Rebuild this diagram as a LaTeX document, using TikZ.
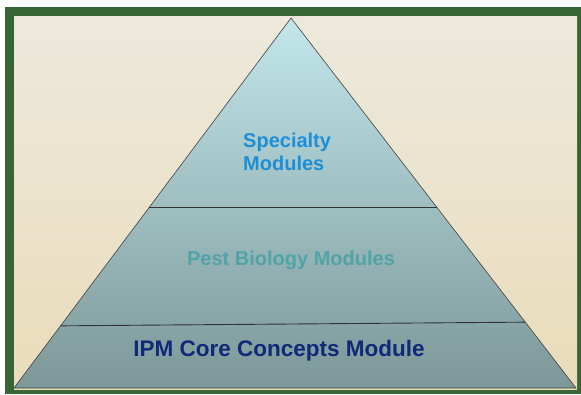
\documentclass[tikz,border=0pt]{standalone}
\usepackage{fontspec}
\setmainfont{Liberation Sans}
\usetikzlibrary{calc,positioning}
\definecolor{frameGreen}{RGB}{55,102,52}
\definecolor{paperTop}{RGB}{236,233,220}
\definecolor{paperMid}{RGB}{242,236,220}
\definecolor{paperBot}{RGB}{234,220,186}
\definecolor{pyrTop}{RGB}{194,230,234}
\definecolor{pyrBot}{RGB}{124,151,152}
\definecolor{specBlue}{RGB}{30,142,214}
\definecolor{pestTeal}{RGB}{80,163,168}
\definecolor{coreNavy}{RGB}{16,42,120}
\tikzset{
  tierlabel/.style={font=\bfseries\fontsize{20}{23}\selectfont,align=center,inner sep=0pt},
  tierline/.style={draw=black!80,line width=0.9pt}
}
\begin{document}
\begin{tikzpicture}[x=1pt,y=-1pt]
\useasboundingbox (0,0) rectangle (581,394);
% frame and paper
\fill[white] (0,0) rectangle (581,394);
\fill[frameGreen] (5,7) rectangle (581,394);
\shade[top color=paperTop,middle color=paperMid,bottom color=paperBot] (14,16) rectangle (577,389);
% pyramid corners
\coordinate (apex) at (291,18);
\coordinate (bl) at (14,388);
\coordinate (br) at (576,388);
\shade[top color=pyrTop,bottom color=pyrBot,draw=black!75,line width=0.6pt] (apex) -- (bl) -- (br) -- cycle;
% tier borders
\coordinate (t1l) at ($(apex)!0.511!(bl)$);
\coordinate (t1r) at ($(apex)!0.511!(br)$);
\coordinate (t2l) at ($(apex)!0.832!(bl)$);
\coordinate (t2r) at ($(apex)!0.822!(br)$);
\draw[tierline] (t1l) -- (t1r);
\draw[tierline] (t2l) -- (t2r);
% labels
\node[tierlabel,text=specBlue,align=left,anchor=west] (spec) at (243,152) {Specialty\\Modules};
\node[tierlabel,text=pestTeal] (pest) at (291,260) {Pest Biology Modules};
\node[tierlabel,text=coreNavy,font=\bfseries\fontsize{22.5}{26}\selectfont] (core) at (279,351) {IPM Core Concepts Module};
\end{tikzpicture}
\end{document}
